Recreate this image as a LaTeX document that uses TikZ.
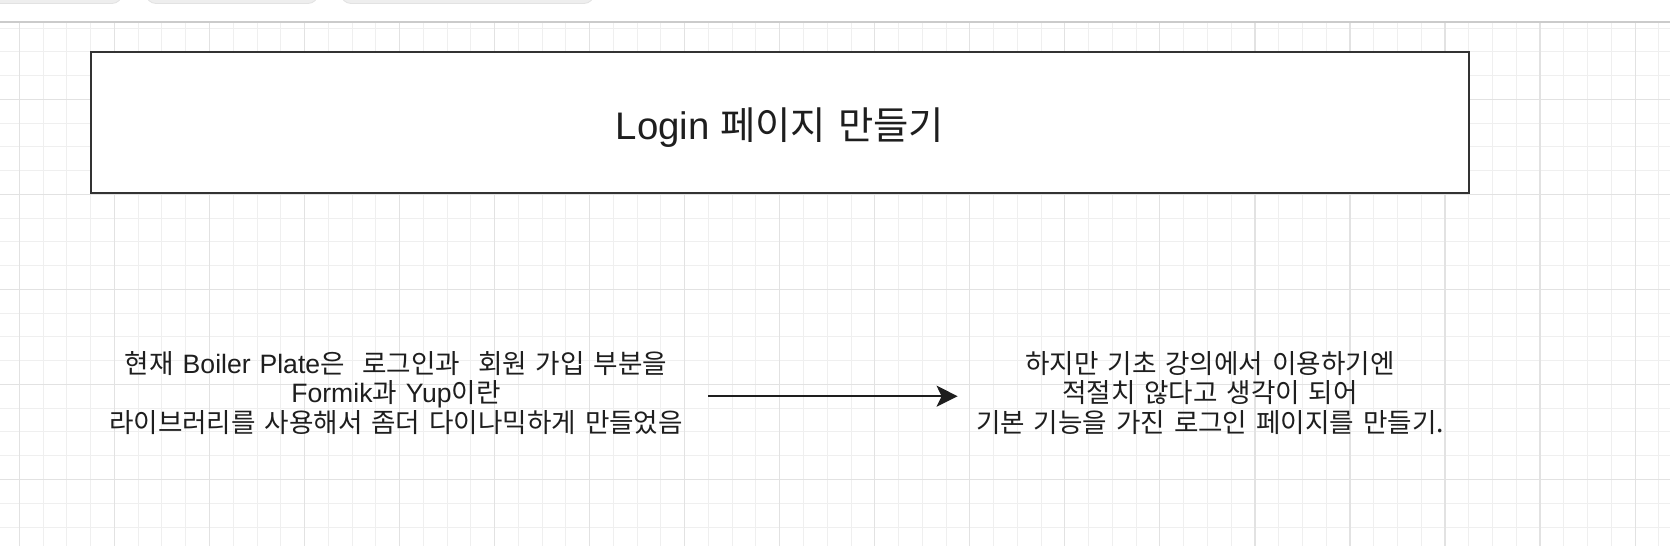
\documentclass[tikz,border=0pt]{standalone}
\usepackage{fontspec}
\setmainfont{Liberation Sans}
\newfontfamily\kr[WordSpace=1.4]{Noto Sans CJK KR}
\usepackage{xcolor}
\usetikzlibrary{
    arrows.meta,
    positioning
}
\definecolor{gridminor}{HTML}{EFEFEF}
\definecolor{gridmajor}{HTML}{E2E2E2}
\definecolor{tabgray}{HTML}{EEEEEE}
\definecolor{inkdark}{HTML}{1E1E1E}

\begin{document}
\begin{tikzpicture}[
    x=0.5pt, y=-0.5pt,
    titlebox/.style={
        rectangle,
        draw=black!80,
        line width=1pt,
        fill=white,
        minimum width=689pt,
        minimum height=70.8pt,
        font=\fontsize{19.2}{23}\selectfont,
        text=inkdark
    },
    note/.style={
        align=center,
        inner sep=0pt,
        font=\fontsize{13.3}{14.9}\selectfont,
        text=inkdark
    },
    flow/.style={
        -{Stealth[length=10.5pt,width=10.5pt,inset=2.5pt]},
        line width=1pt,
        draw=inkdark
    },
    tab/.style={
        rounded corners=5pt,
        fill=tabgray,
        draw=gridmajor
    }
]
\useasboundingbox (0,0) rectangle (1670,546);
\clip (0,0) rectangle (1670,546);

% =========================================================
% Canvas: tabs and grid
% =========================================================
\fill[white] (0,0) rectangle (1670,546);
\draw[tab] (-20,-20) rectangle (122,3.5);
\draw[tab] (146,-20) rectangle (318,3.5);
\draw[tab] (341,-20) rectangle (594,3.5);

\foreach \i in {0,...,70}
    \draw[gridminor, line width=0.5pt] ({-4.36+23.76*\i},21.7) -- ({-4.36+23.76*\i},546);
\foreach \j in {1,...,22}
    \draw[gridminor, line width=0.5pt] (0,{4.3+23.76*\j}) -- (1670,{4.3+23.76*\j});
\foreach \i in {0,...,17}
    \draw[gridmajor, line width=0.6pt] ({19.4+95.04*\i},21.7) -- ({19.4+95.04*\i},546);
\foreach \j in {1,...,5}
    \draw[gridmajor, line width=0.6pt] (0,{4.3+95.04*\j}) -- (1670,{4.3+95.04*\j});
\draw[gridmajor!90!black, line width=0.8pt] (0,21.7) -- (1670,21.7);

% =========================================================
% Title
% =========================================================
\node[titlebox] (title) at (780,122.5)
{\raisebox{-8.6pt}[0pt][0pt]{Login {\kr 페이지 만들기}}};

% =========================================================
% Current state -> new plan
% =========================================================
\node[note, text width=312pt] (current) at (396,393)
{{\kr 현재} Boiler Plate{\kr 은\ \ 로그인과\ \ 회원 가입 부분을}\\
Formik{\kr 과} Yup{\kr 이란}\\
{\kr 라이브러리를 사용해서 좀더 다이나믹하게 만들었음}};

\node[note, text width=252pt] (plan) at (1210,393)
{{\kr 하지만 기초 강의에서 이용하기엔}\\
{\kr 적절치 않다고 생각이 되어}\\
{\kr 기본 기능을 가진 로그인 페이지를 만들기.}};

\draw[flow] ([yshift=-1.6pt]current.east) -- ([yshift=-1.6pt]plan.west);

\end{tikzpicture}
\end{document}
